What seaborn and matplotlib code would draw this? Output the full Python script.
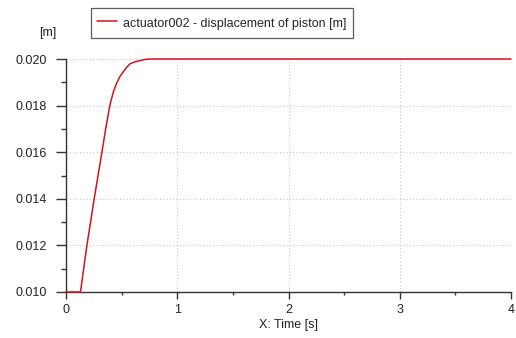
import seaborn as sns
import numpy as np
import pandas as pd
import matplotlib.pyplot as plt
from matplotlib.ticker import MultipleLocator

# values
time_s = [0.0, 0.13, 0.186, 0.25, 0.321, 0.36, 0.395, 0.425, 0.455, 0.485,
          0.515, 0.545, 0.575, 0.62, 0.665, 0.71, 0.755, 1.0, 2.0, 3.0, 4.0]
displacement_m = [0.0100, 0.0100, 0.01194, 0.01390, 0.01595, 0.01710, 0.01803,
                  0.01858, 0.01896, 0.01925, 0.01945, 0.01964, 0.01979, 0.01988,
                  0.01993, 0.01998, 0.0200, 0.0200, 0.0200, 0.0200, 0.0200]
series_label = "actuator002 - displacement of piston [m]"

df = pd.DataFrame({"t": time_s, "x": displacement_m, "s": series_label})

sns.set_style("white")
plt.rcParams["font.family"] = ["Liberation Sans", "DejaVu Sans"]
plt.rcParams["font.size"] = 9.0

red = "#d0141e"
fig = plt.figure(figsize=(5.16, 3.38), dpi=100)
ax = fig.add_axes([66 / 516, 1 - 292 / 338, 445 / 516, 233 / 338])

sns.lineplot(data=df, x="t", y="x", hue="s", palette=[red], linewidth=1.1,
             ax=ax, legend=False)
for ln in ax.get_lines():
    ln.set_clip_on(False)
    ln.set_zorder(5)

ax.set_xlim(0, 4)
ax.set_ylim(0.010, 0.020)
ax.xaxis.set_major_locator(MultipleLocator(1))
ax.xaxis.set_minor_locator(MultipleLocator(0.5))
ax.yaxis.set_major_locator(MultipleLocator(0.002))
ax.yaxis.set_minor_locator(MultipleLocator(0.001))
ax.yaxis.set_major_formatter(plt.FormatStrFormatter("%.3f"))

ax.grid(True, which="major", linestyle=(0, (1, 2)), color="#c8c8c8", linewidth=0.8)
for side in ["top", "right"]:
    ax.spines[side].set_visible(False)
for side in ["left", "bottom"]:
    ax.spines[side].set_color("#333333")
    ax.spines[side].set_linewidth(1.0)

ax.tick_params(which="both", direction="out", color="#333333", colors="#222222",
               left=True, bottom=True, width=1.0)
ax.tick_params(axis="y", which="major", length=7, pad=6.5)
ax.tick_params(axis="y", which="minor", length=3.5)
ax.tick_params(axis="x", which="major", length=5, pad=3.5)
ax.tick_params(axis="x", which="minor", length=2.2)

ax.set_xlabel("X: Time [s]", color="#222222", labelpad=2.5)
ax.set_ylabel("")
fig.text(48 / 516, 1 - 33 / 338, "[m]", ha="center", va="center", color="#222222")

# legend box above the axes
handle = plt.Line2D([], [], color=red, linewidth=1.1)
leg = fig.legend([handle], [series_label], loc="upper left",
                 bbox_to_anchor=(91 / 516, 1 - 8 / 338), frameon=True,
                 fancybox=False, handlelength=1.6, handleheight=1.75,
                 borderpad=0.5, handletextpad=0.45, borderaxespad=0)
leg.get_frame().set_edgecolor("#333333")
leg.get_frame().set_linewidth(0.9)

fig.savefig("out.png", dpi=100)
